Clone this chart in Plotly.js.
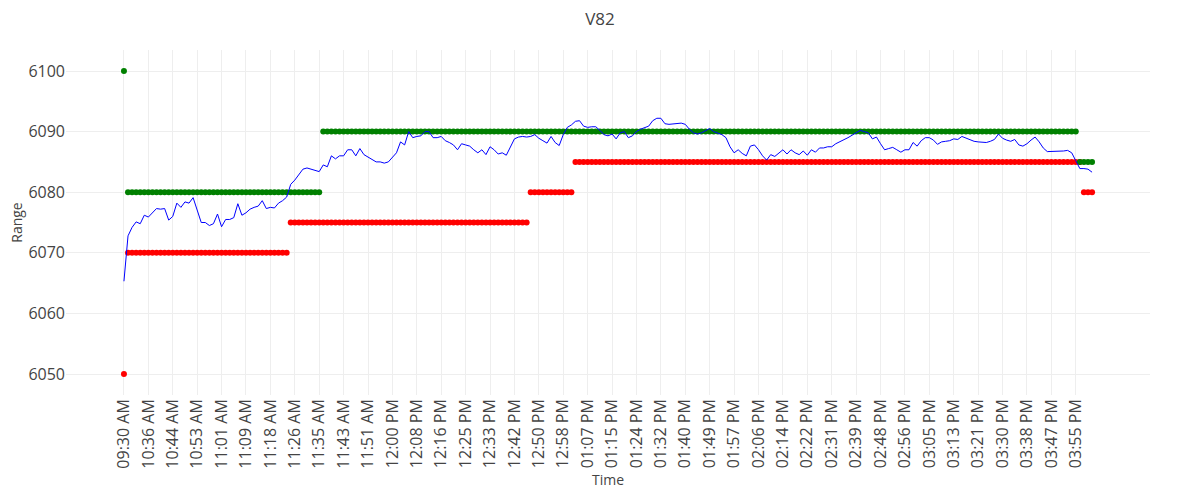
<!DOCTYPE html>
<html>
<head>
<meta charset="utf-8">
<script src="https://cdn.plot.ly/plotly-3.0.1.min.js"></script>
<style>html,body{margin:0;padding:0;background:#fff;}#chart{width:1200px;height:500px;}</style>
</head>
<body>
<div id="chart"></div>
<script>
// Time categories (one row per labelled tick interval)
const times = [
"09:30 AM","10:29 AM","10:30 AM","10:31 AM","10:33 AM","10:34 AM",
"10:36 AM","10:37 AM","10:39 AM","10:40 AM","10:41 AM","10:43 AM",
"10:44 AM","10:45 AM","10:47 AM","10:48 AM","10:50 AM","10:51 AM",
"10:53 AM","10:54 AM","10:56 AM","10:57 AM","10:58 AM","11:00 AM",
"11:01 AM","11:02 AM","11:04 AM","11:05 AM","11:06 AM","11:08 AM",
"11:09 AM","11:10 AM","11:12 AM","11:13 AM","11:15 AM","11:16 AM",
"11:18 AM","11:19 AM","11:21 AM","11:22 AM","11:23 AM","11:25 AM",
"11:26 AM","11:27 AM","11:29 AM","11:30 AM","11:32 AM","11:33 AM",
"11:35 AM","11:36 AM","11:38 AM","11:39 AM","11:40 AM","11:42 AM",
"11:43 AM","11:44 AM","11:46 AM","11:47 AM","11:48 AM","11:50 AM",
"11:51 AM","11:52 AM","11:54 AM","11:55 AM","11:57 AM","11:58 AM",
"12:00 PM","12:01 PM","12:03 PM","12:04 PM","12:05 PM","12:07 PM",
"12:08 PM","12:09 PM","12:11 PM","12:12 PM","12:13 PM","12:15 PM",
"12:16 PM","12:17 PM","12:19 PM","12:20 PM","12:22 PM","12:23 PM",
"12:25 PM","12:26 PM","12:28 PM","12:29 PM","12:30 PM","12:32 PM",
"12:33 PM","12:34 PM","12:36 PM","12:37 PM","12:39 PM","12:40 PM",
"12:42 PM","12:43 PM","12:45 PM","12:46 PM","12:47 PM","12:49 PM",
"12:50 PM","12:51 PM","12:53 PM","12:54 PM","12:55 PM","12:57 PM",
"12:58 PM","12:59 PM","01:01 PM","01:02 PM","01:04 PM","01:05 PM",
"01:07 PM","01:08 PM","01:10 PM","01:11 PM","01:12 PM","01:14 PM",
"01:15 PM","01:16 PM","01:18 PM","01:19 PM","01:21 PM","01:22 PM",
"01:24 PM","01:25 PM","01:27 PM","01:28 PM","01:29 PM","01:31 PM",
"01:32 PM","01:33 PM","01:35 PM","01:36 PM","01:37 PM","01:39 PM",
"01:40 PM","01:41 PM","01:43 PM","01:44 PM","01:46 PM","01:47 PM",
"01:49 PM","01:50 PM","01:52 PM","01:53 PM","01:54 PM","01:56 PM",
"01:57 PM","01:58 PM","02:00 PM","02:01 PM","02:03 PM","02:04 PM",
"02:06 PM","02:07 PM","02:09 PM","02:10 PM","02:11 PM","02:13 PM",
"02:14 PM","02:15 PM","02:17 PM","02:18 PM","02:19 PM","02:21 PM",
"02:22 PM","02:23 PM","02:25 PM","02:26 PM","02:28 PM","02:29 PM",
"02:31 PM","02:32 PM","02:34 PM","02:35 PM","02:36 PM","02:38 PM",
"02:39 PM","02:40 PM","02:42 PM","02:43 PM","02:45 PM","02:46 PM",
"02:48 PM","02:49 PM","02:51 PM","02:52 PM","02:53 PM","02:55 PM",
"02:56 PM","02:57 PM","02:59 PM","03:00 PM","03:02 PM","03:03 PM",
"03:05 PM","03:06 PM","03:08 PM","03:09 PM","03:10 PM","03:12 PM",
"03:13 PM","03:14 PM","03:16 PM","03:17 PM","03:18 PM","03:20 PM",
"03:21 PM","03:22 PM","03:24 PM","03:25 PM","03:27 PM","03:28 PM",
"03:30 PM","03:31 PM","03:33 PM","03:34 PM","03:35 PM","03:37 PM",
"03:38 PM","03:39 PM","03:41 PM","03:42 PM","03:44 PM","03:45 PM",
"03:47 PM","03:48 PM","03:50 PM","03:51 PM","03:52 PM","03:54 PM",
"03:55 PM","03:56 PM","03:57 PM","03:59 PM","04:00 PM"
];

// Price line
const price = [
6065.3,6072.8,6074.2,6075.1,6074.8,6076.2,
6075.9,6076.6,6077.3,6077.2,6077.3,6075.4,
6076.0,6078.2,6077.5,6078.4,6078.2,6079.1,
6077.0,6075.0,6075.0,6074.5,6074.8,6076.4,
6074.3,6075.5,6075.5,6075.8,6078.1,6076.2,
6076.6,6077.2,6077.5,6077.7,6078.6,6077.3,
6077.5,6077.4,6078.2,6078.6,6079.2,6081.3,
6082.0,6082.9,6083.8,6084.0,6083.8,6083.6,
6083.4,6084.5,6084.2,6086.0,6085.5,6086.0,
6086.0,6087.0,6087.0,6086.0,6087.2,6086.2,
6085.8,6085.5,6085.0,6085.0,6084.8,6085.0,
6085.8,6086.5,6088.3,6087.8,6090.0,6089.0,
6089.2,6089.3,6090.0,6090.0,6089.0,6089.0,
6089.2,6088.5,6088.2,6087.8,6087.0,6088.0,
6087.8,6087.6,6087.0,6086.5,6087.0,6086.2,
6087.5,6087.0,6086.3,6086.5,6086.1,6087.5,
6088.8,6089.1,6089.2,6089.1,6089.2,6089.5,
6088.9,6088.5,6088.1,6089.2,6088.2,6087.7,
6089.5,6090.7,6091.1,6091.7,6091.8,6090.9,
6090.7,6090.8,6090.8,6090.2,6089.5,6089.3,
6089.6,6088.8,6089.8,6090.0,6089.0,6089.3,
6090.0,6090.4,6090.6,6090.9,6091.8,6092.2,
6092.2,6091.3,6091.2,6091.3,6091.4,6091.4,
6091.2,6090.4,6089.8,6089.6,6089.8,6090.2,
6090.5,6090.0,6089.8,6089.5,6089.0,6087.5,
6086.5,6087.0,6086.4,6086.0,6087.6,6087.8,
6087.0,6086.0,6085.3,6086.2,6085.9,6086.5,
6087.0,6086.3,6087.0,6086.5,6086.2,6086.8,
6086.1,6087.0,6086.6,6087.3,6087.3,6087.5,
6087.5,6088.0,6088.3,6088.7,6089.0,6089.4,
6089.8,6090.2,6090.0,6089.8,6088.8,6089.1,
6088.0,6087.0,6087.2,6087.4,6087.0,6086.6,
6087.0,6087.0,6088.2,6087.6,6088.5,6089.0,
6089.0,6088.6,6087.9,6088.3,6088.4,6088.5,
6088.8,6088.7,6089.2,6088.9,6088.7,6088.4,
6088.3,6088.3,6088.2,6088.4,6088.7,6089.6,
6088.9,6088.6,6088.4,6088.7,6087.8,6087.6,
6088.0,6088.6,6089.1,6088.3,6087.3,6086.7,
6086.7,6086.7,6086.7,6086.8,6086.9,6086.5,
6085.2,6083.9,6083.9,6083.8,6083.3
];

// Resistance (green dots)
const resistance = [
6100,6080,6080,6080,6080,6080,
6080,6080,6080,6080,6080,6080,
6080,6080,6080,6080,6080,6080,
6080,6080,6080,6080,6080,6080,
6080,6080,6080,6080,6080,6080,
6080,6080,6080,6080,6080,6080,
6080,6080,6080,6080,6080,6080,
6080,6080,6080,6080,6080,6080,
6080,6090,6090,6090,6090,6090,
6090,6090,6090,6090,6090,6090,
6090,6090,6090,6090,6090,6090,
6090,6090,6090,6090,6090,6090,
6090,6090,6090,6090,6090,6090,
6090,6090,6090,6090,6090,6090,
6090,6090,6090,6090,6090,6090,
6090,6090,6090,6090,6090,6090,
6090,6090,6090,6090,6090,6090,
6090,6090,6090,6090,6090,6090,
6090,6090,6090,6090,6090,6090,
6090,6090,6090,6090,6090,6090,
6090,6090,6090,6090,6090,6090,
6090,6090,6090,6090,6090,6090,
6090,6090,6090,6090,6090,6090,
6090,6090,6090,6090,6090,6090,
6090,6090,6090,6090,6090,6090,
6090,6090,6090,6090,6090,6090,
6090,6090,6090,6090,6090,6090,
6090,6090,6090,6090,6090,6090,
6090,6090,6090,6090,6090,6090,
6090,6090,6090,6090,6090,6090,
6090,6090,6090,6090,6090,6090,
6090,6090,6090,6090,6090,6090,
6090,6090,6090,6090,6090,6090,
6090,6090,6090,6090,6090,6090,
6090,6090,6090,6090,6090,6090,
6090,6090,6090,6090,6090,6090,
6090,6090,6090,6090,6090,6090,
6090,6090,6090,6090,6090,6090,
6090,6090,6090,6090,6090,6090,
6090,6085,6085,6085,6085
];

// Support (red dots)
const support = [
6050,6070,6070,6070,6070,6070,
6070,6070,6070,6070,6070,6070,
6070,6070,6070,6070,6070,6070,
6070,6070,6070,6070,6070,6070,
6070,6070,6070,6070,6070,6070,
6070,6070,6070,6070,6070,6070,
6070,6070,6070,6070,6070,6075,
6075,6075,6075,6075,6075,6075,
6075,6075,6075,6075,6075,6075,
6075,6075,6075,6075,6075,6075,
6075,6075,6075,6075,6075,6075,
6075,6075,6075,6075,6075,6075,
6075,6075,6075,6075,6075,6075,
6075,6075,6075,6075,6075,6075,
6075,6075,6075,6075,6075,6075,
6075,6075,6075,6075,6075,6075,
6075,6075,6075,6075,6080,6080,
6080,6080,6080,6080,6080,6080,
6080,6080,6080,6085,6085,6085,
6085,6085,6085,6085,6085,6085,
6085,6085,6085,6085,6085,6085,
6085,6085,6085,6085,6085,6085,
6085,6085,6085,6085,6085,6085,
6085,6085,6085,6085,6085,6085,
6085,6085,6085,6085,6085,6085,
6085,6085,6085,6085,6085,6085,
6085,6085,6085,6085,6085,6085,
6085,6085,6085,6085,6085,6085,
6085,6085,6085,6085,6085,6085,
6085,6085,6085,6085,6085,6085,
6085,6085,6085,6085,6085,6085,
6085,6085,6085,6085,6085,6085,
6085,6085,6085,6085,6085,6085,
6085,6085,6085,6085,6085,6085,
6085,6085,6085,6085,6085,6085,
6085,6085,6085,6085,6085,6085,
6085,6085,6085,6085,6085,6085,
6085,6085,6085,6085,6085,6085,
6085,6085,6085,6085,6085,6085,
6085,6085,6080,6080,6080
];

const traces = [
  {x: times, y: support, type: 'scatter', mode: 'markers', name: 'Support',
   marker: {color: 'red', size: 6}},
  {x: times, y: resistance, type: 'scatter', mode: 'markers', name: 'Resistance',
   marker: {color: 'green', size: 6}},
  {x: times, y: price, type: 'scatter', mode: 'lines', name: 'Price',
   line: {color: 'blue', width: 1}}
];

const layout = {
  width: 1200, height: 500,
  title: {text: 'V82'},
  showlegend: false,
  paper_bgcolor: '#ffffff', plot_bgcolor: '#ffffff',
  margin: {l: 66, r: 50, t: 50, b: 105},
  xaxis: {
    type: 'category',
    title: {text: 'Time'},
    tickmode: 'linear', tick0: 0, dtick: 6,
    tickangle: -90,
    tickfont: {size: 16},
    showgrid: true, gridcolor: '#eeeeee',
    zeroline: false, showline: false
  },
  yaxis: {
    title: {text: 'Range'},
    dtick: 10,
    tickfont: {size: 16},
    showgrid: true, gridcolor: '#eeeeee',
    zeroline: false, showline: false
  }
};

Plotly.newPlot('chart', traces, layout, {displayModeBar: false});
</script>
</body>
</html>
